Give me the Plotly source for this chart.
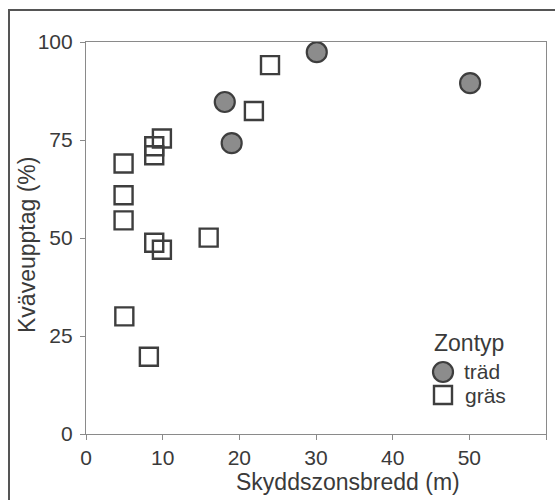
import plotly.graph_objects as go

# Data
trad_x = [18.1, 19.0, 30.1, 50.1]
trad_y = [84.7, 74.2, 97.4, 89.5]

gras_x = [24.0, 21.9, 9.9, 8.9, 8.9, 4.9, 4.9, 4.9, 8.9, 9.9, 16.0, 5.0, 8.2]
gras_y = [94.1, 82.4, 75.4, 73.4, 71.1, 69.0, 60.9, 54.5, 48.8, 47.0, 50.1, 30.0, 19.7]

x_ticks = [0, 10, 20, 30, 40, 50, 60]
y_ticks = [0, 25, 50, 75, 100]

series_names = ["träd", "gräs"]
legend_title = "Zontyp"
x_title = "Skyddszonsbredd (m)"
y_title = "Kväveupptag (%)"

FONT = "Liberation Sans, Arial, sans-serif"
TXT = "#3a3a3a"
AX = "#8a8a8a"
EDGE = "#3e3e3e"
FILL = "#8c8c8c"

fig = go.Figure()
fig.add_trace(go.Scatter(
    x=trad_x, y=trad_y, mode="markers", name=series_names[0],
    marker=dict(symbol="circle", size=20, color=FILL,
                line=dict(color=EDGE, width=2.2)),
))
fig.add_trace(go.Scatter(
    x=gras_x, y=gras_y, mode="markers", name=series_names[1],
    marker=dict(symbol="square-open", size=18, color=EDGE,
                line=dict(color=EDGE, width=2.4)),
))

W, H = 555, 500
L, R, T, B = 86, 9, 42, 66
pw, ph = W - L - R, H - T - B


def px(xp):
    return (xp - L) / pw


def py(yp):
    return (H - B - yp) / ph


fig.update_layout(
    width=W, height=H,
    margin=dict(l=L, r=R, t=T, b=B),
    paper_bgcolor="white", plot_bgcolor="white",
    font=dict(family=FONT, color=TXT, size=21),
    showlegend=False,
    xaxis=dict(
        range=[0, 60], tickvals=x_ticks, ticktext=[str(v) for v in x_ticks],
        showgrid=False, zeroline=False,
        showline=True, linecolor=AX, linewidth=1.2, mirror=True,
        ticks="outside", ticklen=5, tickwidth=1.2, tickcolor=AX,
        tickfont=dict(size=21, color=TXT),
    ),
    yaxis=dict(
        range=[0, 100], tickvals=y_ticks, ticktext=[str(v) for v in y_ticks],
        showgrid=False, zeroline=False,
        showline=True, linecolor=AX, linewidth=1.2, mirror=True,
        ticks="outside", ticklen=5, tickwidth=1.2, tickcolor=AX,
        tickfont=dict(size=21, color=TXT), ticklabelstandoff=3,
    ),
)

# axis titles
fig.add_annotation(text=x_title, xref="paper", yref="paper",
                   x=px(348), y=py(482), xanchor="center", yanchor="middle",
                   showarrow=False, font=dict(size=23, color=TXT))
fig.add_annotation(text=y_title, xref="paper", yref="paper",
                   x=px(27), y=py(245), xanchor="center", yanchor="middle",
                   textangle=-90, showarrow=False, font=dict(size=23, color=TXT))

# legend (drawn manually)
fig.add_annotation(text=legend_title, xref="paper", yref="paper",
                   x=px(432), y=py(343), xanchor="left", yanchor="middle",
                   showarrow=False, font=dict(size=23, color=TXT))
fig.add_annotation(text=series_names[0], xref="paper", yref="paper",
                   x=px(462), y=py(371), xanchor="left", yanchor="middle",
                   showarrow=False, font=dict(size=21, color=TXT))
fig.add_annotation(text=series_names[1], xref="paper", yref="paper",
                   x=px(463), y=py(395), xanchor="left", yanchor="middle",
                   showarrow=False, font=dict(size=21, color=TXT))
fig.add_shape(type="circle", xref="paper", yref="paper",
              x0=px(433), x1=px(453), y0=py(382), y1=py(362),
              fillcolor=FILL, line=dict(color=EDGE, width=2.2))
fig.add_shape(type="rect", xref="paper", yref="paper",
              x0=px(434), x1=px(452), y0=py(404), y1=py(386),
              fillcolor="rgba(0,0,0,0)", line=dict(color=EDGE, width=2.4))

# outer frame (extends beyond the visible page on right and bottom)
fig.add_shape(type="rect", xref="paper", yref="paper",
              x0=px(9), x1=px(W + 20), y0=py(H + 20), y1=py(10),
              line=dict(color="#555555", width=2), layer="below")

fig.write_html("out.html")
